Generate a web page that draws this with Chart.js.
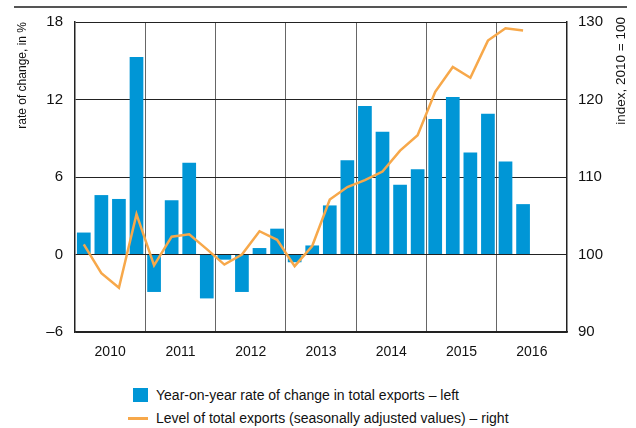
<!DOCTYPE html>
<html>
<head>
<meta charset="utf-8">
<script src="https://cdn.jsdelivr.net/npm/chart.js@4/dist/chart.umd.min.js"></script>
<style>
  body { margin: 0; background: #fff; font-family: "Liberation Sans", Arial, sans-serif; }
  #wrap { position: relative; width: 636px; height: 428px; }
  #rule { position: absolute; left: 14px; top: 6px; width: 613px; height: 1.5px; background: #555; }
  #legend { position: absolute; left: 0; top: 384px; font-size: 14px; color: #111; }
  .item { position: absolute; left: 156px; white-space: nowrap; line-height: 22px; }
  .box { position: absolute; }
</style>
</head>
<body>
<div id="wrap">
  <div id="rule"></div>
  <canvas id="ExportsChart" width="636" height="360"></canvas>
  <div id="legend"></div>
</div>
<script>
var years = ['2010', '2011', '2012', '2013', '2014', '2015', '2016'];
var quarters = [];
years.forEach(function (y) {
    for (var q = 1; q <= 4; q++) quarters.push(y + ' Q' + q);
});

// year-on-year rate of change, in % (left axis)
var yoyChange = [1.7, 4.6, 4.3, 15.3, -2.9, 4.2, 7.1, -3.4, -0.4, -2.9, 0.5, 2.0,
                 -0.6, 0.7, 3.8, 7.3, 11.5, 9.5, 5.4, 6.6, 10.5, 12.2, 7.9, 10.9, 7.2, 3.9];
// level of total exports, index 2010 = 100 (right axis)
var exportLevel = [101.3, 97.6, 95.7, 105.2, 98.6, 102.3, 102.6, 100.7, 98.7, 100.0, 103.0, 101.9,
                   98.5, 101.1, 107.1, 108.7, 109.6, 110.7, 113.4, 115.4, 121.0, 124.2, 122.8, 127.6, 129.2, 128.9];

var leftTicks = [-6, 0, 6, 12, 18];
var rightTicks = [90, 100, 110, 120, 130];

var fontFamily = '"Liberation Sans", Arial, sans-serif';
var blue = '#0096D6';
var orange = '#F7A84A';

var rightTitle = {
    id: 'rightTitle',
    afterDraw: function (chart) {
        var ctx = chart.ctx;
        ctx.save();
        ctx.font = '13.5px ' + fontFamily;
        ctx.fillStyle = '#111';
        ctx.translate(621, 17);
        ctx.rotate(-Math.PI / 2);
        ctx.textAlign = 'right';
        ctx.textBaseline = 'middle';
        ctx.fillText('index, 2010 = 100', 0, 0);
        ctx.restore();
    }
};

var ctx = document.getElementById('ExportsChart').getContext('2d');
var chart = new Chart(ctx, {
    type: 'bar',
    data: {
        labels: quarters,
        datasets: [{
            type: 'line',
            label: 'Level of total exports (seasonally adjusted values) \u2013 right',
            data: exportLevel,
            yAxisID: 'y1',
            borderColor: orange,
            backgroundColor: orange,
            borderWidth: 2.5,
            pointRadius: 0,
            tension: 0,
            order: 0
        }, {
            label: 'Year-on-year rate of change in total exports \u2013 left',
            data: yoyChange,
            yAxisID: 'y',
            backgroundColor: blue,
            borderWidth: 0,
            categoryPercentage: 1,
            barPercentage: 0.78,
            order: 1
        }]
    },
    options: {
        responsive: false,
        animation: false,
        layout: { padding: { top: 22, left: 0, right: 0, bottom: 0 } },
        plugins: {
            legend: { display: false },
            tooltip: { enabled: false }
        },
        scales: {
            x: {
                offset: true,
                grid: {
                    offset: true,
                    drawTicks: false,
                    lineWidth: 1,
                    color: function (c) {
                        return (c.index !== undefined && c.index > 0 && c.index % 4 === 0) ? '#666' : 'transparent';
                    }
                },
                border: { display: true, color: '#222', width: 1.5 },
                ticks: {
                    autoSkip: false,
                    maxRotation: 0,
                    padding: 12,
                    labelOffset: 8.8,
                    color: '#111',
                    font: { family: fontFamily, size: 14 },
                    callback: function (v, i) {
                        return i % 4 === 1 ? this.getLabelForValue(v).slice(0, 4) : '';
                    }
                },
                afterFit: function (s) { s.height = 28; }
            },
            y: {
                position: 'left',
                min: -6,
                max: 18,
                afterBuildTicks: function (s) { s.ticks = leftTicks.map(function (v) { return { value: v }; }); },
                grid: { color: '#222', lineWidth: 1, drawTicks: false },
                border: { display: true, color: '#222', width: 1.5 },
                ticks: {
                    padding: 12,
                    color: '#111',
                    font: { family: fontFamily, size: 15 },
                    callback: function (v) { return v < 0 ? '\u2013' + Math.abs(v) : v; }
                },
                title: {
                    display: true,
                    text: 'rate of change, in %',
                    align: 'end',
                    color: '#111',
                    padding: { top: 15, bottom: 0 },
                    font: { family: fontFamily, size: 12 }
                },
                afterFit: function (s) { s.width = 75; }
            },
            y1: {
                position: 'right',
                min: 90,
                max: 130,
                afterBuildTicks: function (s) { s.ticks = rightTicks.map(function (v) { return { value: v }; }); },
                grid: { display: false, drawTicks: false },
                border: { display: true, color: '#222', width: 1.5 },
                ticks: {
                    padding: 11,
                    color: '#111',
                    font: { family: fontFamily, size: 15 }
                },
                afterFit: function (s) { s.width = 69; }
            }
        }
    },
    plugins: [rightTitle]
});

// legend built from the datasets, bars first
var legend = document.getElementById('legend');
[chart.data.datasets[1], chart.data.datasets[0]].forEach(function (ds, i) {
    var top = i * 23;
    var mark = document.createElement('div');
    mark.className = 'box';
    if (ds.type === 'line') {
        mark.style.cssText = 'left:128px;width:20px;height:2.5px;top:' + (top + 10) + 'px;background:' + ds.borderColor;
    } else {
        mark.style.cssText = 'left:133px;width:15px;height:14px;top:' + (top + 4) + 'px;background:' + ds.backgroundColor;
    }
    var txt = document.createElement('div');
    txt.className = 'item';
    txt.style.top = top + 'px';
    txt.textContent = ds.label;
    legend.appendChild(mark);
    legend.appendChild(txt);
});
</script>
</body>
</html>
